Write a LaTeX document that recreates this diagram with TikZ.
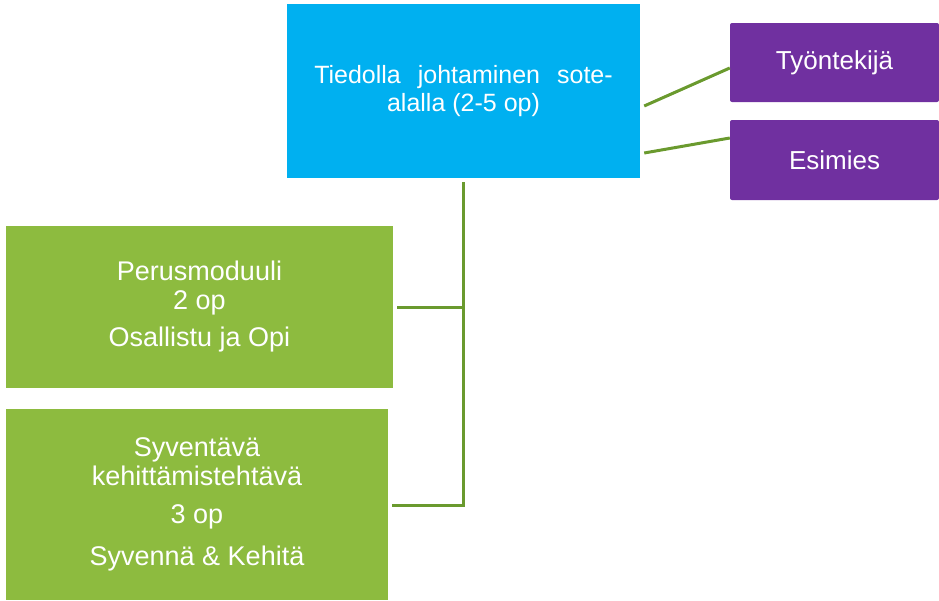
\documentclass[tikz,border=0pt]{standalone}
\usepackage{fontspec}
\setmainfont{Liberation Sans}
\usetikzlibrary{positioning,calc}
\definecolor{topicblue}{HTML}{00B0F0}
\definecolor{rolepurple}{HTML}{7030A0}
\definecolor{modulegreen}{HTML}{8DBB3F}
\definecolor{linegreen}{HTML}{6A9A2E}
\tikzset{
    topic/.style={
        rectangle,
        fill=topicblue,
        text=white,
        minimum width=353pt,
        minimum height=174pt,
        align=center,
        font=\fontsize{25pt}{28pt}\selectfont,
    },
    role/.style={
        rectangle,
        rounded corners=2pt,
        fill=rolepurple,
        text=white,
        minimum width=209pt,
        align=center,
        font=\fontsize{26pt}{29pt}\selectfont,
    },
    module/.style={
        rectangle,
        fill=modulegreen,
        text=white,
        align=center,
        font=\fontsize{27pt}{29pt}\selectfont,
    },
    link/.style={
        draw=linegreen,
        line width=3pt,
    },
    tree/.style={
        draw=linegreen,
        line width=3pt,
    },
}

\begin{document}
\begin{tikzpicture}[x=1pt,y=-1pt]
    \useasboundingbox (0,0) rectangle (939,600);
    % main topic and the two roles
    \node [topic] (tiedolla) at (463.5,91) {Tiedolla\hspace{0.68em}johtaminen\hspace{0.68em}sote-\\alalla (2-5 op)};
    \node [role, minimum height=79pt] (tyontekija) at (834.5,62.5) {Työntekijä};
    \node [role, minimum height=80pt] (esimies) at (834.5,160) {Esimies};
    % modules
    \node [module, minimum width=387pt, minimum height=162pt] (perus) at (199.5,307) {Perusmoduuli\\2 op\\[8pt]Osallistu ja Opi};
    \node [module, minimum width=382pt, minimum height=191pt] (syventava) at (197,504.5) {Syventävä\\kehittämistehtävä\\[9pt]3 op\\[13pt]Syvennä \& Kehitä};
    \draw [link] ([xshift=4pt,yshift=-15pt]tiedolla.east) -- ([yshift=-5.5pt]tyontekija.west);
    \draw [link] ([xshift=4pt,yshift=-62pt]tiedolla.east) -- ([yshift=22pt]esimies.west);
    \draw [tree] ([yshift=-4pt]tiedolla.south) -- (tiedolla.south |- 0,505) -- ([xshift=4pt]syventava.east |- 0,505);
    \draw [tree] ([xshift=4pt]perus.east) -- (tiedolla.south |- perus.east);
\end{tikzpicture}
\end{document}
